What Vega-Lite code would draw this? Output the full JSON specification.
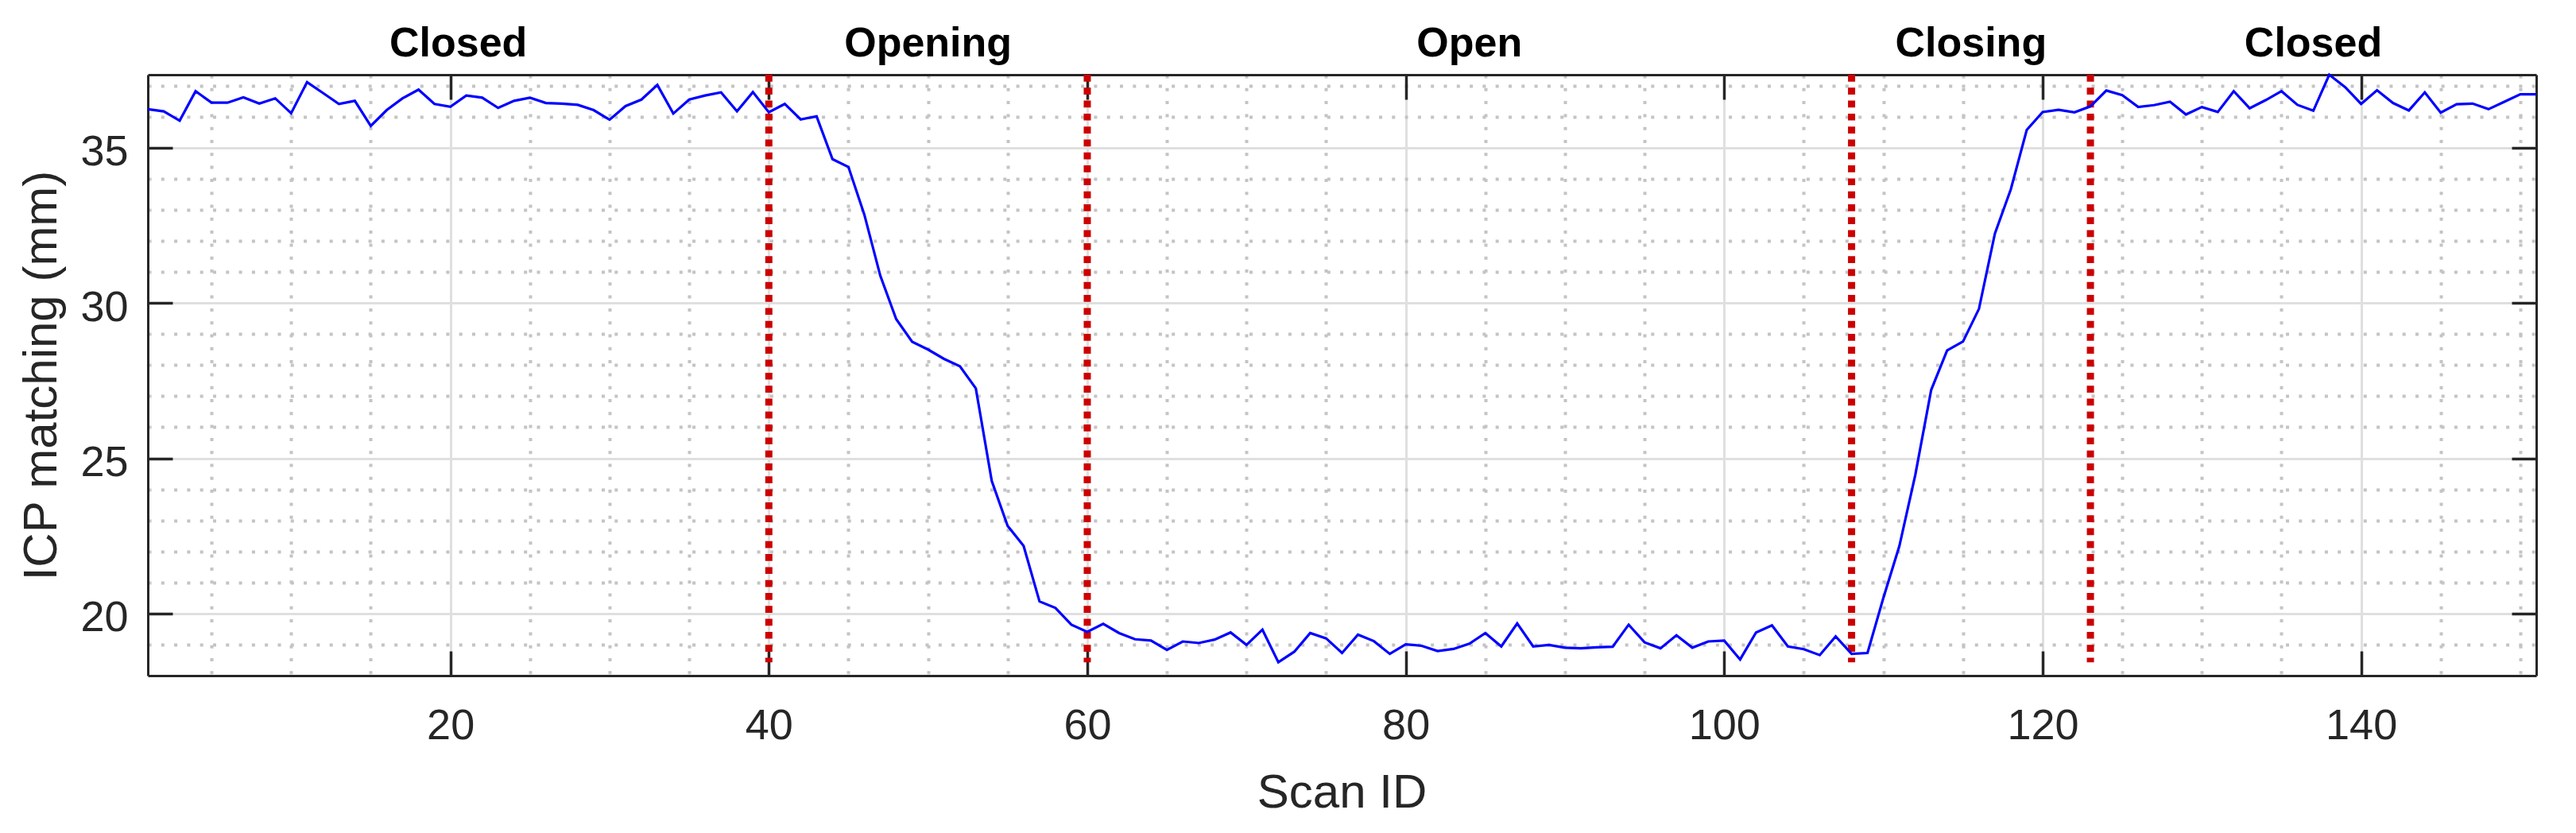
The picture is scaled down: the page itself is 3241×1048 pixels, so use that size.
{
  "$schema": "https://vega.github.io/schema/vega-lite/v6.json",
  "width": 3005,
  "height": 756,
  "autosize": "none",
  "padding": {"left": 186, "top": 94, "right": 50, "bottom": 198},
  "background": "white",
  "config": {
    "view": {"stroke": null},
    "axis": {"labelFont": "Liberation Sans", "titleFont": "Liberation Sans"}
  },
  "data": {"values": [
    {"scan":1,"icp":36.24},{"scan":2,"icp":36.17},{"scan":3,"icp":35.87},{"scan":4,"icp":36.82},{"scan":5,"icp":36.45},
    {"scan":6,"icp":36.45},{"scan":7,"icp":36.62},{"scan":8,"icp":36.42},{"scan":9,"icp":36.59},{"scan":10,"icp":36.11},
    {"scan":11,"icp":37.11},{"scan":12,"icp":36.76},{"scan":13,"icp":36.41},{"scan":14,"icp":36.51},{"scan":15,"icp":35.70},
    {"scan":16,"icp":36.21},{"scan":17,"icp":36.59},{"scan":18,"icp":36.87},{"scan":19,"icp":36.41},{"scan":20,"icp":36.32},
    {"scan":21,"icp":36.68},{"scan":22,"icp":36.61},{"scan":23,"icp":36.28},{"scan":24,"icp":36.51},{"scan":25,"icp":36.61},
    {"scan":26,"icp":36.44},{"scan":27,"icp":36.42},{"scan":28,"icp":36.38},{"scan":29,"icp":36.21},{"scan":30,"icp":35.90},
    {"scan":31,"icp":36.34},{"scan":32,"icp":36.55},{"scan":33,"icp":37.02},{"scan":34,"icp":36.10},{"scan":35,"icp":36.55},
    {"scan":36,"icp":36.68},{"scan":37,"icp":36.78},{"scan":38,"icp":36.17},{"scan":39,"icp":36.79},{"scan":40,"icp":36.14},
    {"scan":41,"icp":36.41},{"scan":42,"icp":35.91},{"scan":43,"icp":36.01},{"scan":44,"icp":34.63},{"scan":45,"icp":34.38},
    {"scan":46,"icp":32.84},{"scan":47,"icp":30.88},{"scan":48,"icp":29.48},{"scan":49,"icp":28.75},{"scan":50,"icp":28.50},
    {"scan":51,"icp":28.20},{"scan":52,"icp":27.96},{"scan":53,"icp":27.25},{"scan":54,"icp":24.27},{"scan":55,"icp":22.82},
    {"scan":56,"icp":22.18},{"scan":57,"icp":20.39},{"scan":58,"icp":20.18},{"scan":59,"icp":19.64},{"scan":60,"icp":19.41},
    {"scan":61,"icp":19.67},{"scan":62,"icp":19.37},{"scan":63,"icp":19.17},{"scan":64,"icp":19.13},{"scan":65,"icp":18.83},
    {"scan":66,"icp":19.10},{"scan":67,"icp":19.05},{"scan":68,"icp":19.16},{"scan":69,"icp":19.39},{"scan":70,"icp":18.99},
    {"scan":71,"icp":19.48},{"scan":72,"icp":18.43},{"scan":73,"icp":18.77},{"scan":74,"icp":19.37},{"scan":75,"icp":19.20},
    {"scan":76,"icp":18.73},{"scan":77,"icp":19.32},{"scan":78,"icp":19.11},{"scan":79,"icp":18.70},{"scan":80,"icp":19.01},
    {"scan":81,"icp":18.96},{"scan":82,"icp":18.79},{"scan":83,"icp":18.86},{"scan":84,"icp":19.03},{"scan":85,"icp":19.37},
    {"scan":86,"icp":18.94},{"scan":87,"icp":19.68},{"scan":88,"icp":18.94},{"scan":89,"icp":18.99},{"scan":90,"icp":18.90},
    {"scan":91,"icp":18.88},{"scan":92,"icp":18.91},{"scan":93,"icp":18.93},{"scan":94,"icp":19.64},{"scan":95,"icp":19.07},
    {"scan":96,"icp":18.88},{"scan":97,"icp":19.30},{"scan":98,"icp":18.90},{"scan":99,"icp":19.10},{"scan":100,"icp":19.13},
    {"scan":101,"icp":18.52},{"scan":102,"icp":19.39},{"scan":103,"icp":19.62},{"scan":104,"icp":18.94},{"scan":105,"icp":18.85},
    {"scan":106,"icp":18.66},{"scan":107,"icp":19.26},{"scan":108,"icp":18.70},{"scan":109,"icp":18.73},{"scan":110,"icp":20.51},
    {"scan":111,"icp":22.17},{"scan":112,"icp":24.46},{"scan":113,"icp":27.20},{"scan":114,"icp":28.47},{"scan":115,"icp":28.76},
    {"scan":116,"icp":29.81},{"scan":117,"icp":32.23},{"scan":118,"icp":33.66},{"scan":119,"icp":35.57},{"scan":120,"icp":36.15},
    {"scan":121,"icp":36.22},{"scan":122,"icp":36.14},{"scan":123,"icp":36.33},{"scan":124,"icp":36.84},{"scan":125,"icp":36.69},
    {"scan":126,"icp":36.31},{"scan":127,"icp":36.37},{"scan":128,"icp":36.48},{"scan":129,"icp":36.07},{"scan":130,"icp":36.31},
    {"scan":131,"icp":36.15},{"scan":132,"icp":36.82},{"scan":133,"icp":36.27},{"scan":134,"icp":36.53},{"scan":135,"icp":36.82},
    {"scan":136,"icp":36.38},{"scan":137,"icp":36.19},{"scan":138,"icp":37.35},{"scan":139,"icp":36.95},{"scan":140,"icp":36.41},
    {"scan":141,"icp":36.85},{"scan":142,"icp":36.44},{"scan":143,"icp":36.20},{"scan":144,"icp":36.78},{"scan":145,"icp":36.13},
    {"scan":146,"icp":36.40},{"scan":147,"icp":36.42},{"scan":148,"icp":36.24},{"scan":149,"icp":36.48},{"scan":150,"icp":36.72},
    {"scan":151,"icp":36.72}
  ]},
  "resolve": {"axis": {"x": "independent", "y": "independent"}},
  "layer": [
    {
      "mark": {"type": "line", "opacity": 0},
      "encoding": {
        "x": {"field": "scan", "type": "quantitative",
          "scale": {"domain": [1, 151], "nice": false, "zero": false},
          "axis": {"orient": "bottom", "values": [5,10,15,25,30,35,45,50,55,65,70,75,85,90,95,105,110,115,125,130,135,145,150],
            "grid": true, "gridColor": "#c4c4c4", "gridWidth": 4, "gridDash": [4, 12.3],
            "labels": false, "ticks": false, "domain": false, "title": null}},
        "y": {"field": "icp", "type": "quantitative",
          "scale": {"domain": [18, 37.35], "nice": false, "zero": false},
          "axis": {"orient": "left", "values": [19,21,22,23,24,26,27,28,29,31,32,33,34,36,37],
            "grid": true, "gridColor": "#c4c4c4", "gridWidth": 4, "gridDash": [4, 12.3],
            "labels": false, "ticks": false, "domain": false, "title": null}}
      }
    },
    {
      "mark": {"type": "line", "opacity": 0},
      "encoding": {
        "x": {"field": "scan", "type": "quantitative",
          "scale": {"domain": [1, 151], "nice": false, "zero": false},
          "axis": {"orient": "bottom", "values": [20,40,60,80,100,120,140],
            "grid": true, "gridColor": "#dfdfdf", "gridWidth": 3,
            "labels": true, "labelFontSize": 54, "labelColor": "#262626", "labelPadding": 36, "labelFlush": false,
            "ticks": false, "domain": false,
            "title": "Scan ID", "titleFontSize": 60, "titleFontWeight": "normal", "titleColor": "#262626",
            "titleX": 1502, "titleY": 165, "titleBaseline": "alphabetic", "titleAlign": "center"}},
        "y": {"field": "icp", "type": "quantitative",
          "scale": {"domain": [18, 37.35], "nice": false, "zero": false},
          "axis": {"orient": "left", "values": [20,25,30,35],
            "grid": true, "gridColor": "#dfdfdf", "gridWidth": 3,
            "labels": true, "labelFontSize": 54, "labelColor": "#262626", "labelPadding": 25, "labelOffset": 6,
            "labelBaseline": "middle", "labelFlush": false,
            "ticks": false, "domain": false,
            "title": "ICP matching (mm)", "titleFontSize": 60, "titleFontWeight": "normal", "titleColor": "#262626",
            "titleX": -116, "titleY": 378, "titleBaseline": "alphabetic", "titleAlign": "center", "titleAngle": 270}}
      }
    },
    {
      "mark": {"type": "line", "opacity": 0},
      "encoding": {
        "x": {"field": "scan", "type": "quantitative",
          "scale": {"domain": [1, 151], "nice": false, "zero": false},
          "axis": {"orient": "bottom", "values": [20,40,60,80,100,120,140],
            "grid": false, "labels": false, "ticks": true, "tickSize": -31, "tickWidth": 3.5, "tickColor": "#262626",
            "domain": true, "domainColor": "#262626", "domainWidth": 3, "title": null}},
        "y": {"field": "icp", "type": "quantitative",
          "scale": {"domain": [18, 37.35], "nice": false, "zero": false},
          "axis": {"orient": "left", "values": [20,25,30,35],
            "grid": false, "labels": false, "ticks": true, "tickSize": -31, "tickWidth": 3.5, "tickColor": "#262626",
            "domain": true, "domainColor": "#262626", "domainWidth": 3, "title": null}}
      }
    },
    {
      "mark": {"type": "line", "opacity": 0},
      "encoding": {
        "x": {"field": "scan", "type": "quantitative",
          "scale": {"domain": [1, 151], "nice": false, "zero": false},
          "axis": {"orient": "top", "values": [20,40,60,80,100,120,140],
            "grid": false, "labels": false, "ticks": true, "tickSize": -31, "tickWidth": 3.5, "tickColor": "#262626",
            "domain": true, "domainColor": "#262626", "domainWidth": 3, "title": null}},
        "y": {"field": "icp", "type": "quantitative",
          "scale": {"domain": [18, 37.35], "nice": false, "zero": false},
          "axis": {"orient": "right", "values": [20,25,30,35],
            "grid": false, "labels": false, "ticks": true, "tickSize": -31, "tickWidth": 3.5, "tickColor": "#262626",
            "domain": true, "domainColor": "#262626", "domainWidth": 3, "title": null}}
      }
    },
    {
      "data": {"values": [{"boundary": 40}, {"boundary": 60}, {"boundary": 108}, {"boundary": 123}]},
      "mark": {"type": "rule", "color": "#cc0000", "strokeWidth": 9, "strokeDash": [8.7, 7.6]},
      "encoding": {
        "x": {"field": "boundary", "type": "quantitative",
          "scale": {"domain": [1, 151], "nice": false, "zero": false}, "axis": null},
        "y": {"datum": 37.35, "type": "quantitative",
          "scale": {"domain": [18, 37.35], "nice": false, "zero": false}, "axis": null},
        "y2": {"datum": 18.43}
      }
    },
    {
      "mark": {"type": "line", "color": "#0000ff", "strokeWidth": 3.2},
      "encoding": {
        "x": {"field": "scan", "type": "quantitative",
          "scale": {"domain": [1, 151], "nice": false, "zero": false}, "axis": null},
        "y": {"field": "icp", "type": "quantitative",
          "scale": {"domain": [18, 37.35], "nice": false, "zero": false}, "axis": null}
      }
    },
    {
      "data": {"values": [
        {"phase": "Closed", "mid": 20.5},
        {"phase": "Opening", "mid": 50},
        {"phase": "Open", "mid": 84},
        {"phase": "Closing", "mid": 115.5},
        {"phase": "Closed", "mid": 137}
      ]},
      "mark": {"type": "text", "font": "Liberation Sans", "fontSize": 52, "fontWeight": "bold", "color": "#000000",
        "baseline": "alphabetic", "align": "center", "dy": -23, "clip": false},
      "encoding": {
        "x": {"field": "mid", "type": "quantitative",
          "scale": {"domain": [1, 151], "nice": false, "zero": false}, "axis": null},
        "y": {"datum": 37.35, "type": "quantitative",
          "scale": {"domain": [18, 37.35], "nice": false, "zero": false}, "axis": null},
        "text": {"field": "phase"}
      }
    }
  ]
}
